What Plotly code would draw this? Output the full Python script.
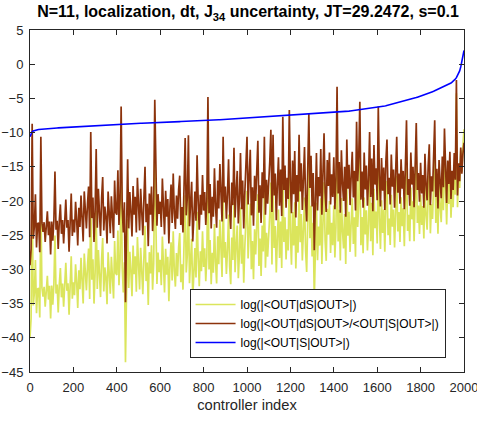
import plotly.graph_objects as go

# controller index grid (every 5th controller)
controller_index = list(range(0, 2001, 5))

# log(|<OUT|dS|OUT>/<OUT|S|OUT>|) per controller
log_ratio = [
    -29.4, -27.0, -8.7, -25.5, -23.8, -19.0, -26.8, -23.3, -23.2, -27.5, -10.6, -23.2, -24.5, -23.1, -26.0, -23.1, -21.5, -25.0, -23.0, -27.8,
    -23.0, -25.8, -22.9, -15.7, -24.2, -22.9, -27.0, -22.9, -20.5, -24.8, -22.8, -26.2, -22.8, -19.8, -23.9, -22.8, -27.4, -21.4, -18.9, -25.1,
    -22.7, -24.6, -20.1, -22.7, -26.5, -21.0, -23.8, -19.2, -22.6, -25.9, -18.6, -22.6, -24.0, -20.4, -17.9, -25.3, -9.9, -22.5, -19.5, -26.0,
    -21.5, -12.4, -23.9, -18.2, -22.4, -25.1, -19.6, -16.5, -24.3, -20.8, -22.3, -26.2, -18.6, -21.0, -24.7, -19.3, -22.2, -25.4, -17.0, -21.7,
    -22.0, -15.5, -23.5, -19.8, -6.2, -21.0, -24.6, -20.2, -34.8, -22.3, -13.9, -24.0, -18.7, -21.6, -25.2, -17.8, -22.0, -19.4, -24.6, -16.6,
    -21.0, -24.3, -18.2, -22.5, -25.0, -19.6, -15.0, -23.1, -20.4, -26.6, -18.9, -22.0, -17.9, -24.4, -20.6, -5.2, -12.1, -23.6, -19.0, -21.9,
    -20.1, -23.8, -16.7, -21.4, -24.9, -18.5, -22.3, -19.7, -26.2, -20.8, -17.6, -23.2, -16.0, -21.7, -24.1, -19.2, -22.6, -18.3, -16.3, -23.5,
    -20.9, -24.6, -18.0, -10.8, -22.1, -19.5, -10.4, -23.7, -20.3, -17.2, -25.9, -21.2, -18.6, -22.9, -13.3, -20.0, -24.2, -19.1, -22.0, -16.2,
    -21.4, -18.7, -23.5, -20.0, -4.8, -21.8, -17.5, -24.0, -19.4, -22.3, -15.2, -20.7, -23.9, -17.0, -21.1, -14.6, -19.8, -23.0, -10.6, -20.2,
    -17.9, -22.6, -19.0, -13.9, -21.5, -24.1, -17.3, -20.6, -12.2, -22.4, -18.5, -15.6, -23.3, -19.7, -13.0, -21.2, -17.0, -24.0, -18.8, -14.9,
    -10.6, -20.5, -17.4, -12.5, -22.1, -18.0, -23.6, -16.3, -20.0, -14.4, -11.2, -21.7, -17.7, -23.2, -15.8, -19.6, -10.6, -22.0, -16.9, -20.4,
    -18.1, -14.2, -9.6, -21.6, -10.3, -19.2, -16.0, -22.8, -17.5, -13.6, -20.7, -15.4, -22.2, -7.7, -18.4, -14.8, -21.0, -16.6, -19.7, -6.7,
    -17.3, -21.8, -14.1, -19.0, -12.7, -22.4, -16.2, -20.1, -10.3, -18.6, -14.5, -21.3, -16.8, -12.1, -19.9, -23.0, -15.3, -7.3, -18.1, -13.4,
    -20.8, -15.9, -27.2, -17.2, -13.0, -21.4, -16.5, -19.3, -12.4, -22.0, -15.1, -10.1, -18.7, -21.6, -14.0, -17.8, -12.9, -20.5, -16.1, -19.4,
    -13.6, -21.2, -16.7, -3.3, -18.9, -14.3, -21.7, -12.6, -17.4, -20.0, -15.0, -22.3, -11.0, -18.2, -14.7, -20.6, -16.4, -12.8, -19.5, -15.6,
    -21.4, -8.4, -17.1, -13.5, -5.5, -19.8, -15.7, -21.0, -12.9, -18.3, -14.8, -20.7, -16.9, -9.9, -19.4, -13.8, -21.5, -11.8, -17.6, -15.2,
    -19.9, -6.2, -16.3, -20.8, -13.7, -18.5, -15.1, -21.3, -14.2, -11.0, -19.0, -16.6, -20.5, -13.2, -17.9, -15.4, -21.0, -14.6, -10.6, -18.8,
    -16.0, -20.4, -13.9, -18.2, -15.6, -21.2, -14.3, -8.2, -19.1, -16.8, -20.7, -12.9, -17.6, -15.0, -20.9, -13.6, -8.6, -18.4, -15.9, -20.1,
    -14.4, -18.9, -16.2, -21.0, -13.1, -17.7, -19.9, -14.9, -11.7, -20.6, -16.4, -18.6, -13.8, -8.2, -19.4, -15.3, -21.1, -14.0, -17.3, -19.6,
    -13.5, -18.0, -9.4, -16.7, -20.3, -14.1, -17.5, -12.8, -19.7, -15.6, -18.4, -13.0, -16.9, -2.3, -19.2, -14.5, -17.1, -12.2, -16.0, -13.1,
    -11.5,
]

# log(|<OUT|S|OUT>|) per controller (sorted)
log_S = [
    -10.60, -10.15, -9.88, -9.76, -9.69, -9.64, -9.60, -9.57, -9.54, -9.52, -9.50, -9.49, -9.47, -9.46, -9.45, -9.43, -9.42, -9.41, -9.39, -9.38,
    -9.37, -9.36, -9.35, -9.34, -9.33, -9.32, -9.31, -9.30, -9.29, -9.28, -9.27, -9.26, -9.25, -9.24, -9.23, -9.22, -9.21, -9.20, -9.19, -9.18,
    -9.17, -9.16, -9.15, -9.14, -9.13, -9.12, -9.11, -9.10, -9.09, -9.08, -9.08, -9.07, -9.06, -9.05, -9.04, -9.03, -9.03, -9.02, -9.01, -9.00,
    -8.99, -8.98, -8.97, -8.96, -8.95, -8.95, -8.94, -8.93, -8.92, -8.91, -8.90, -8.90, -8.89, -8.88, -8.87, -8.86, -8.86, -8.85, -8.84, -8.83,
    -8.82, -8.81, -8.80, -8.80, -8.79, -8.78, -8.77, -8.76, -8.76, -8.75, -8.74, -8.73, -8.72, -8.72, -8.71, -8.70, -8.69, -8.69, -8.68, -8.67,
    -8.66, -8.65, -8.64, -8.64, -8.63, -8.62, -8.61, -8.61, -8.60, -8.59, -8.58, -8.58, -8.57, -8.56, -8.55, -8.55, -8.54, -8.53, -8.53, -8.52,
    -8.51, -8.50, -8.50, -8.49, -8.48, -8.48, -8.47, -8.46, -8.46, -8.45, -8.44, -8.43, -8.43, -8.42, -8.41, -8.41, -8.40, -8.39, -8.39, -8.38,
    -8.37, -8.36, -8.36, -8.35, -8.34, -8.34, -8.33, -8.32, -8.32, -8.31, -8.30, -8.29, -8.29, -8.28, -8.27, -8.27, -8.26, -8.25, -8.25, -8.24,
    -8.23, -8.22, -8.22, -8.21, -8.20, -8.20, -8.19, -8.18, -8.18, -8.17, -8.16, -8.15, -8.15, -8.14, -8.13, -8.13, -8.12, -8.11, -8.11, -8.10,
    -8.09, -8.08, -8.07, -8.07, -8.06, -8.05, -8.04, -8.03, -8.02, -8.02, -8.01, -8.00, -7.99, -7.98, -7.97, -7.96, -7.95, -7.94, -7.93, -7.92,
    -7.90, -7.89, -7.88, -7.87, -7.86, -7.86, -7.85, -7.84, -7.83, -7.82, -7.81, -7.80, -7.79, -7.78, -7.77, -7.77, -7.76, -7.75, -7.74, -7.73,
    -7.72, -7.71, -7.70, -7.69, -7.68, -7.67, -7.66, -7.65, -7.64, -7.63, -7.62, -7.61, -7.60, -7.59, -7.58, -7.57, -7.56, -7.55, -7.54, -7.53,
    -7.52, -7.51, -7.50, -7.49, -7.48, -7.47, -7.46, -7.45, -7.44, -7.43, -7.41, -7.40, -7.39, -7.38, -7.37, -7.36, -7.35, -7.34, -7.33, -7.31,
    -7.30, -7.29, -7.28, -7.27, -7.26, -7.25, -7.23, -7.22, -7.21, -7.20, -7.19, -7.17, -7.16, -7.15, -7.14, -7.12, -7.11, -7.10, -7.08, -7.07,
    -7.06, -7.05, -7.03, -7.02, -7.01, -6.99, -6.98, -6.96, -6.95, -6.93, -6.92, -6.90, -6.89, -6.87, -6.86, -6.84, -6.82, -6.81, -6.79, -6.77,
    -6.75, -6.73, -6.71, -6.70, -6.68, -6.66, -6.64, -6.62, -6.60, -6.58, -6.56, -6.54, -6.52, -6.49, -6.47, -6.45, -6.42, -6.40, -6.37, -6.35,
    -6.32, -6.29, -6.26, -6.23, -6.20, -6.17, -6.14, -6.11, -6.08, -6.04, -6.01, -5.97, -5.94, -5.90, -5.87, -5.83, -5.79, -5.75, -5.71, -5.67,
    -5.63, -5.59, -5.55, -5.50, -5.46, -5.41, -5.37, -5.32, -5.27, -5.23, -5.18, -5.13, -5.08, -5.03, -4.98, -4.93, -4.88, -4.82, -4.77, -4.72,
    -4.66, -4.60, -4.55, -4.49, -4.43, -4.37, -4.31, -4.25, -4.19, -4.13, -4.07, -4.01, -3.95, -3.88, -3.82, -3.75, -3.69, -3.62, -3.56, -3.49,
    -3.42, -3.35, -3.28, -3.20, -3.12, -3.04, -2.95, -2.85, -2.75, -2.63, -2.50, -2.35, -2.17, -1.96, -1.70, -1.38, -0.98, -0.40, 0.30, 1.10,
    2.00,
]

# log|<OUT|dS|OUT>| = log|dS/S| + log|S|
log_dS = [r + s for r, s in zip(log_ratio, log_S)]

x_ticks = list(range(0, 2001, 200))
y_ticks = list(range(-45, 6, 5))

FONT = "Liberation Sans, Arial, Helvetica, sans-serif"
AXIS_COLOR = "#262626"

fig = go.Figure()
fig.add_trace(go.Scatter(
    x=controller_index, y=log_dS, mode="lines",
    line=dict(color="#dbe55c", width=1.7),
    name="log(|&lt;OUT|dS|OUT&gt;|)",
))
fig.add_trace(go.Scatter(
    x=controller_index, y=log_ratio, mode="lines",
    line=dict(color="#8c330c", width=1.7),
    name="log(|&lt;OUT|dS|OUT&gt;/&lt;OUT|S|OUT&gt;|)",
))
fig.add_trace(go.Scatter(
    x=controller_index, y=log_S, mode="lines",
    line=dict(color="#0000ff", width=1.6),
    name="log(|&lt;OUT|S|OUT&gt;|)",
))

axis_common = dict(
    showgrid=False, zeroline=False, automargin=False,
    showline=True, linecolor=AXIS_COLOR, linewidth=1, mirror="ticks",
    ticks="inside", ticklen=5, tickwidth=1, tickcolor=AXIS_COLOR,
    tickfont=dict(family=FONT, size=13, color=AXIS_COLOR),
    ticklabeloverflow="allow",
)

fig.update_layout(
    width=477, height=422,
    margin=dict(l=30, r=12.5, t=30, b=50),
    paper_bgcolor="white", plot_bgcolor="white",
    font=dict(family=FONT, color=AXIS_COLOR),
    title=dict(
        text="<b>N=11, localization, dt, J<sub>34</sub> uncertainty, JT=29.2472, s=0.1</b>",
        x=0.52, xanchor="center", y=0.972, yanchor="middle",
        font=dict(family=FONT, size=16, color="black"),
    ),
    xaxis=dict(
        range=[0, 2000], tickvals=x_ticks, ticklabelstandoff=3,
        title=dict(text="controller index", font=dict(family=FONT, size=14.7, color=AXIS_COLOR), standoff=6),
        **axis_common,
    ),
    yaxis=dict(range=[-45, 5], tickvals=y_ticks, ticklabelstandoff=3, **axis_common),
    legend=dict(
        x=0.9575, xanchor="right", y=0.041, yanchor="bottom",
        bgcolor="white", bordercolor=AXIS_COLOR, borderwidth=1,
        font=dict(family=FONT, size=12, color="black"),
        itemwidth=40, tracegroupgap=0,
    ),
    showlegend=True,
)

fig.write_html("out.html")
